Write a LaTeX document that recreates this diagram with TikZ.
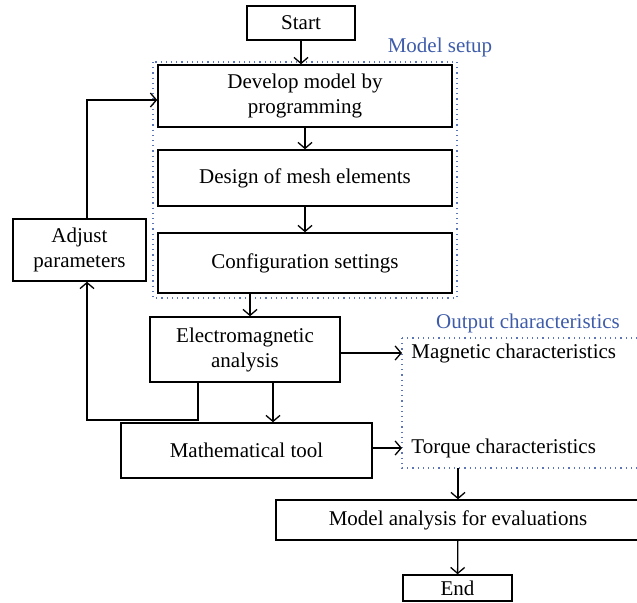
\documentclass[tikz,border=0pt]{standalone}
\usepackage{fontspec}
\setmainfont{Liberation Serif}
\usepackage{tikz}
\usetikzlibrary{arrows.meta}
\definecolor{setupblue}{RGB}{62,92,170}

\begin{document}
\begin{tikzpicture}[x=0.5pt,y=-0.5pt]
\tikzstyle{every node}+=[inner sep=0pt, font=\fontsize{10.5}{12.5}\selectfont]
\tikzstyle{box}=[draw, line width=0.75pt, align=center]
\tikzstyle{link}=[-{Straight Barb[length=3pt,width=7pt]}, line width=0.65pt]
\tikzstyle{group}=[setupblue!85, dotted, line width=0.6pt]
\useasboundingbox (0,0) rectangle (637,602);
% boxes
\node [box, minimum width=54pt, minimum height=17pt] (start) at (301,23) {Start};
\node [box, minimum width=147pt, minimum height=31pt] (develop) at (305,96) {Develop model by\\programming};
\node [box, minimum width=147pt, minimum height=28pt] (design) at (305,178) {Design of mesh elements};
\node [box, minimum width=147pt, minimum height=30pt] (config) at (305,263) {Configuration settings};
\node [box, minimum width=66.5pt, minimum height=31pt] (adjust) at (79.5,250) {Adjust\\parameters};
\node [box, minimum width=95pt, minimum height=32.5pt] (em) at (245,349.5) {Electromagnetic\\analysis};
\node [box, minimum width=125.5pt, minimum height=27.5pt] (math) at (246.5,450.5) {Mathematical tool};
\node [box, minimum width=182pt, minimum height=20pt] (analysis) at (458,520) {Model analysis for evaluations};
\node [box, minimum width=54.5pt, minimum height=13pt] (end) at (457.5,588) {End};
% groups
\draw [group] (153,62) rectangle (457,298);
\node [setupblue] (setuplabel) at (440,47) {Model setup};
\coordinate (outnw) at (402,338);
\coordinate (outse) at (660,468);
\draw [group] (outnw) rectangle (outse);
\node [setupblue] (outlabel) at (528,323) {Output characteristics};
\node [anchor=west] (mag) at (411,353) {Magnetic characteristics};
\node [anchor=west] (torque) at (411,448) {Torque characteristics};
\coordinate (fb) at (87,420);
% arrows
\draw [link] (start) -- (start |- develop.north);
\draw [link] (develop) -- (design);
\draw [link] (design) -- (config);
\draw [link] ([xshift=2.5pt]config.south -| em) -- ([xshift=2.5pt]em.north);
\draw [link] ([xshift=14pt]em.south) -- ([xshift=14pt]em.south |- math.north);
\draw [link] ([xshift=-23.5pt]em.south) |- (fb) -- (adjust.south -| fb);
\draw [link] (adjust.north -| fb) |- ([yshift=-2pt]develop.west);
\draw [link] (em.east |- mag.west) -- (mag.west -| outnw);
\draw [link] (math.east |- torque.west) -- (torque.west -| outnw);
\draw [link] (analysis.north |- outse) -- (analysis.north);
\draw [link] (analysis) -- (end);
\end{tikzpicture}
\end{document}
